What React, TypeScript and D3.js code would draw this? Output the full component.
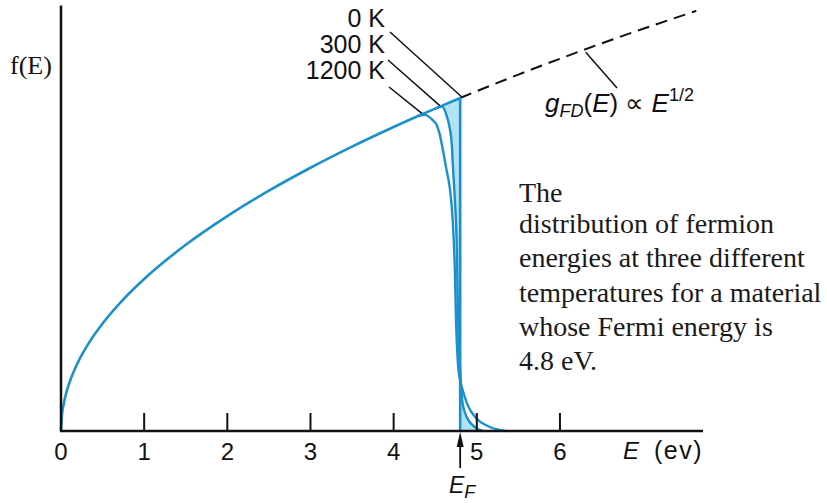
import React from "react";
import * as d3 from "d3";

// Density of states g(E) ∝ E^1/2, sampled along the energy axis (eV)
const dosEnergy = [0, 0.01, 0.03, 0.06, 0.1, 0.2, 0.35, 0.5, 0.75, 1, 1.5, 2, 2.5, 3, 3.5, 4, 4.3, 4.5, 4.8, 5.5, 6, 6.5, 7, 7.64];
const dosValue = [0, 0.1, 0.17, 0.245, 0.316, 0.447, 0.592, 0.707, 0.866, 1, 1.225, 1.414, 1.581, 1.732, 1.871, 2, 2.074, 2.121, 2.191, 2.345, 2.449, 2.55, 2.646, 2.764];

// Occupied-state distribution at 300 K
const occ300Energy = [4.5, 4.58, 4.64, 4.675, 4.7, 4.71, 4.736, 4.76, 4.77, 4.785, 4.8, 4.81, 4.83, 4.88, 4.976, 5.07];
const occ300Value = [2.121, 2.135, 2.07, 1.99, 1.88, 1.77, 1.52, 1.19, 0.86, 0.53, 0.4, 0.3, 0.18, 0.09, 0.026, 0];

// Occupied-state distribution at 1200 K
const occ1200Energy = [4.3, 4.375, 4.46, 4.52, 4.555, 4.59, 4.635, 4.675, 4.71, 4.736, 4.75, 4.77, 4.8, 4.83, 4.89, 4.99, 5.13, 5.34];
const occ1200Value = [2.074, 2.08, 2.05, 2.01, 1.95, 1.855, 1.72, 1.6, 1.39, 1.06, 0.73, 0.47, 0.33, 0.27, 0.17, 0.086, 0.033, 0];

const fermiEnergy = 4.8;
const xTicks = [0, 1, 2, 3, 4, 5, 6];
const tempLabels = ["0 K", "300 K", "1200 K"];
// Energy on the curve where each temperature's leader line ends
const tempAnchorEnergy = [4.82, 4.555, 4.34];
const captionLines = [
  "The",
  "distribution of fermion",
  "energies at three different",
  "temperatures for a material",
  "whose Fermi energy is",
  "4.8 eV.",
];

const W = 827;
const H = 503;
const BLUE = "#1b90ca";
const FILL = "#b2e2f5";
const SANS = "'Liberation Sans', Arial, Helvetica, sans-serif";
const SERIF = "'Liberation Serif', 'Times New Roman', serif";

export default function App() {
  const x = d3.scaleLinear().domain([0, 7.72]).range([61, 703]);
  const y = d3.scaleLinear().domain([0, 2.8]).range([431, 5.4]);

  const dos = dosEnergy.map((e, i) => [e, dosValue[i]] as [number, number]);
  const occ300 = occ300Energy.map((e, i) => [e, occ300Value[i]] as [number, number]);
  const occ1200 = occ1200Energy.map((e, i) => [e, occ1200Value[i]] as [number, number]);

  const line = d3
    .line<[number, number]>()
    .x((d) => x(d[0]))
    .y((d) => y(d[1]))
    .curve(d3.curveMonotoneX);

  const topAtEF = dosValue[dosEnergy.indexOf(fermiEnergy)];
  const below = dos.filter((d) => d[0] <= fermiEnergy);
  const above = dos.filter((d) => d[0] >= fermiEnergy);

  // 0 K: full occupation up to E_F, then a sharp cut
  const path0K = (line(below) as string) + `L${x(fermiEnergy)},${y(0)}`;

  // Shaded gap between the 0 K edge and the 300 K curve
  const occ300Below = occ300.filter((d) => d[0] <= fermiEnergy);
  const occ300Above = occ300.filter((d) => d[0] >= fermiEnergy);
  const dosNear = dos.filter((d) => d[0] >= occ300Energy[0] && d[0] <= fermiEnergy).reverse();
  const fillGap =
    (line(occ300Below) as string) +
    `L${x(fermiEnergy)},${y(topAtEF)}` +
    dosNear.map((d) => `L${x(d[0])},${y(d[1])}`).join("") +
    "Z";
  const fillTail =
    (line(occ300Above) as string) + `L${x(fermiEnergy)},${y(0)}Z`;

  const sqrtAt = (e: number) => {
    const i = d3.bisector((d: [number, number]) => d[0]).left(dos, e);
    const a = dos[Math.max(0, i - 1)];
    const b = dos[Math.min(dos.length - 1, i)];
    if (b[0] === a[0]) return a[1];
    return a[1] + ((b[1] - a[1]) * (e - a[0])) / (b[0] - a[0]);
  };

  const labelBaselines = [27, 53, 79];
  const leaderStarts = [
    [390, 32],
    [388, 60],
    [389, 87],
  ];

  const gLeaderE = 6.31;

  return (
    <svg
      width={W}
      height={H}
      style={{ position: "absolute", left: 0, top: 0, background: "#fff" }}
    >
      {/* shaded regions */}
      <path d={fillGap} fill={FILL} stroke="none" />
      <path d={fillTail} fill={FILL} stroke="none" />

      {/* dashed continuation of g(E) */}
      <path
        d={line(above) as string}
        fill="none"
        stroke="#111"
        strokeWidth={2}
        strokeDasharray="12 7"
      />

      {/* distributions */}
      <path d={line(occ1200) as string} fill="none" stroke={BLUE} strokeWidth={2.4} />
      <path d={line(occ300) as string} fill="none" stroke={BLUE} strokeWidth={2.4} />
      <path d={path0K} fill="none" stroke={BLUE} strokeWidth={2.6} strokeLinejoin="miter" />

      {/* axes */}
      <line x1={x(0)} y1={y(2.8)} x2={x(0)} y2={y(0)} stroke="#111" strokeWidth={2.5} />
      <line x1={x(0) - 1} y1={y(0)} x2={x(7.72)} y2={y(0)} stroke="#111" strokeWidth={2.5} />
      {xTicks.map((t) => (
        <g key={t}>
          {t > 0 && (
            <line x1={x(t)} x2={x(t)} y1={y(0)} y2={y(0) - 18} stroke="#111" strokeWidth={2} />
          )}
          <text
            x={x(t)}
            y={460}
            textAnchor="middle"
            fontFamily={SANS}
            fontSize={24}
            fill="#111"
          >
            {t}
          </text>
        </g>
      ))}

      {/* axis titles */}
      <text x={623} y={459} fontFamily={SANS} fontSize={24} fill="#111" fontStyle="italic">
        E
      </text>
      <text x={703} y={459} textAnchor="end" fontFamily={SANS} fontSize={25} fill="#111" letterSpacing={1.5}>
        (ev)
      </text>
      <text x={10} y={74} fontFamily={SERIF} fontSize={26} fill="#111">
        f(E)
      </text>

      {/* Fermi energy marker */}
      <line x1={x(fermiEnergy)} x2={x(fermiEnergy)} y1={444} y2={468} stroke="#111" strokeWidth={1.8} />
      <path
        d={`M${x(fermiEnergy)},${y(0) + 1}L${x(fermiEnergy) - 3.5},${y(0) + 16}L${x(fermiEnergy) + 3.5},${y(0) + 16}Z`}
        fill="#111"
      />
      <text x={449} y={493} fontFamily={SANS} fontSize={23} fill="#111" fontStyle="italic">
        E
        <tspan fontSize={18} dy={5}>
          F
        </tspan>
      </text>

      {/* temperature labels and leaders */}
      {tempLabels.map((t, i) => {
        const e = tempAnchorEnergy[i];
        const g = i === 0 ? topAtEF : sqrtAt(e);
        return (
          <g key={t}>
            <text
              x={385}
              y={labelBaselines[i]}
              textAnchor="end"
              fontFamily={SANS}
              fontSize={25}
              fill="#111"
            >
              {t}
            </text>
            <line
              x1={leaderStarts[i][0]}
              y1={leaderStarts[i][1]}
              x2={x(e)}
              y2={y(g) - 1}
              stroke="#111"
              strokeWidth={1.5}
            />
          </g>
        );
      })}

      {/* g_FD label */}
      <line
        x1={x(gLeaderE)}
        y1={y(sqrtAt(gLeaderE)) + 3}
        x2={617}
        y2={88}
        stroke="#111"
        strokeWidth={1.5}
      />
      <text x={545} y={112} fontFamily={SANS} fontSize={26} fill="#111">
        <tspan fontStyle="italic">g</tspan>
        <tspan fontStyle="italic" fontSize={18} dy={5}>
          FD
        </tspan>
        <tspan dy={-5}>(</tspan>
        <tspan fontStyle="italic">E</tspan>
        <tspan>) ∝ </tspan>
        <tspan fontStyle="italic">E</tspan>
        <tspan fontSize={18} dy={-11}>
          1/2
        </tspan>
      </text>

      {/* caption */}
      <text fontFamily={SERIF} fontSize={28} fill="#1a1a1a">
        {captionLines.map((l, i) => (
          <tspan key={i} x={519} y={[202, 233, 267, 302, 336, 370][i]}>
            {l}
          </tspan>
        ))}
      </text>
    </svg>
  );
}
